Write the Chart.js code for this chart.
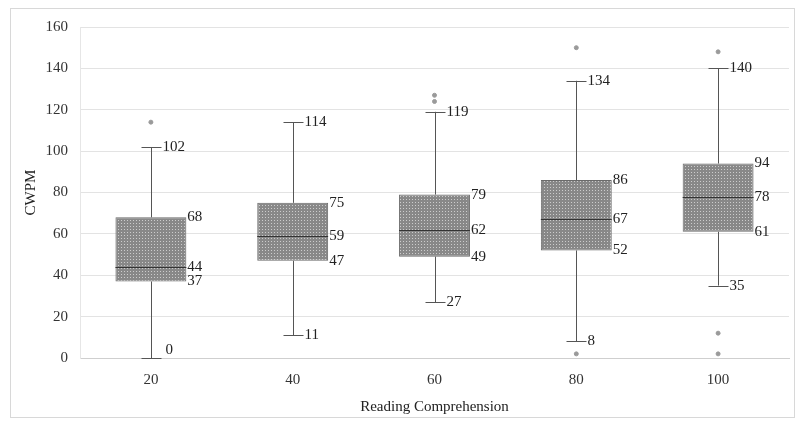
<!DOCTYPE html>
<html>
<head>
<meta charset="utf-8">
<script src="https://cdn.jsdelivr.net/npm/chart.js@4.4.1/dist/chart.umd.min.js"></script>
<style>
  body { margin: 0; background: #fff; }
  #wrap { width: 799px; height: 421px; }
</style>
</head>
<body>
<div id="wrap"><canvas id="boxChart" width="799" height="421"></canvas></div>
<script>
// Datos del diagrama de cajas
var categories = ['20', '40', '60', '80', '100'];
var mins = [0, 11, 27, 8, 35];
var q1s = [37, 47, 49, 52, 61];
var medians = [44, 59, 62, 67, 78];
var q3s = [68, 75, 79, 86, 94];
var maxs = [102, 114, 119, 134, 140];
var outliers = [[114], [], [124, 127], [150, 2], [148, 12, 2]];
var yTicks = [0, 20, 40, 60, 80, 100, 120, 140, 160];

var serif = '"Liberation Serif", "DejaVu Serif", serif';

//Trama punteada gris para las cajas
function makePattern() {
    var c = document.createElement('canvas');
    c.width = 3; c.height = 3;
    var p = c.getContext('2d');
    p.fillStyle = '#888888';
    p.fillRect(0, 0, 3, 3);
    p.fillStyle = '#cccccc';
    p.fillRect(1, 1, 1, 1);
    return p.createPattern(c, 'repeat');
}

var outlierPoints = [];
outliers.forEach(function(list, i) {
    list.forEach(function(v) {
        outlierPoints.push({ x: categories[i], y: v });
    });
});

//Bigotes, medianas y etiquetas
var whiskerPlugin = {
    id: 'whiskers',
    beforeDraw: function(chart) {
        var ctx = chart.ctx;
        ctx.save();
        ctx.strokeStyle = '#d8d8d8';
        ctx.lineWidth = 1;
        ctx.strokeRect(10.5, 8.5, 784, 409);
        ctx.restore();
    },
    afterDatasetsDraw: function(chart) {
        var ctx = chart.ctx;
        var x = chart.scales.x;
        var y = chart.scales.y;
        var meta = chart.getDatasetMeta(0);
        ctx.save();
        ctx.font = '15px ' + serif;
        ctx.fillStyle = '#222';
        ctx.textBaseline = 'middle';
        ctx.textAlign = 'left';
        categories.forEach(function(c, i) {
            var cx = Math.round(x.getPixelForValue(i)) + 0.5;
            var bar = meta.data[i];
            var right = bar.x + bar.width / 2;
            var left = bar.x - bar.width / 2;
            var half = 10;
            ctx.strokeStyle = '#555';
            ctx.lineWidth = 1;
            ctx.beginPath();
            // bigote superior
            ctx.moveTo(cx, y.getPixelForValue(q3s[i]));
            ctx.lineTo(cx, y.getPixelForValue(maxs[i]));
            ctx.moveTo(cx - half, Math.round(y.getPixelForValue(maxs[i])) + 0.5);
            ctx.lineTo(cx + half, Math.round(y.getPixelForValue(maxs[i])) + 0.5);
            // bigote inferior
            ctx.moveTo(cx, y.getPixelForValue(q1s[i]));
            ctx.lineTo(cx, y.getPixelForValue(mins[i]));
            ctx.moveTo(cx - half, Math.round(y.getPixelForValue(mins[i])) + 0.5);
            ctx.lineTo(cx + half, Math.round(y.getPixelForValue(mins[i])) + 0.5);
            ctx.stroke();
            // mediana
            ctx.strokeStyle = '#333';
            ctx.beginPath();
            var my = Math.round(y.getPixelForValue(medians[i])) + 0.5;
            ctx.moveTo(left, my);
            ctx.lineTo(right, my);
            ctx.stroke();
            // etiquetas
            ctx.fillText(String(maxs[i]), cx + half + 1, y.getPixelForValue(maxs[i]));
            ctx.fillText(String(mins[i]), cx + half + (mins[i] === 0 ? 4 : 1), y.getPixelForValue(mins[i]) - (mins[i] === 0 ? 8 : 0));
            ctx.fillText(String(q3s[i]), right + 1, y.getPixelForValue(q3s[i]));
            ctx.fillText(String(medians[i]), right + 1, y.getPixelForValue(medians[i]));
            ctx.fillText(String(q1s[i]), right + 1, y.getPixelForValue(q1s[i]));
        });
        ctx.restore();
    }
};

var ctx = document.getElementById('boxChart').getContext('2d');
var boxChart = new Chart(ctx, {
    type: 'bar',
    data: {
        labels: categories,
        datasets: [{
            label: 'CWPM',
            data: q1s.map(function(v, i) { return [v, q3s[i]]; }),
            backgroundColor: makePattern(),
            borderColor: '#6a6a6a',
            borderWidth: 1,
            borderSkipped: false,
            barPercentage: 0.5,
            categoryPercentage: 1
        }, {
            type: 'scatter',
            label: 'outliers',
            data: outlierPoints,
            pointRadius: 2,
            pointBackgroundColor: '#9a9a9a',
            pointBorderColor: '#9a9a9a'
        }]
    },
    options: {
        responsive: false,
        animation: false,
        layout: { padding: { left: 18, right: 10, top: 27, bottom: 5 } },
        plugins: {
            legend: { display: false },
            tooltip: { enabled: false }
        },
        scales: {
            x: {
                type: 'category',
                offset: true,
                grid: { display: false, drawTicks: false },
                border: { color: '#cfcfcf' },
                ticks: { color: '#333', font: { family: serif, size: 15 }, padding: 13 },
                title: { display: true, text: 'Reading Comprehension', color: '#222', font: { family: serif, size: 15 }, padding: { top: -4, bottom: 0 } }
            },
            y: {
                min: 0,
                max: 160,
                afterBuildTicks: function(scale) {
                    scale.ticks = yTicks.map(function(v) { return { value: v }; });
                },
                afterFit: function(scale) { scale.width = 62; },
                grid: { color: '#e3e3e3', drawTicks: false },
                border: { color: '#e6e6e6' },
                ticks: { color: '#333', font: { family: serif, size: 15 }, padding: 12 },
                title: { display: true, text: 'CWPM', color: '#222', font: { family: serif, size: 15 }, padding: { bottom: 4 } }
            }
        }
    },
    plugins: [whiskerPlugin]
});
</script>
</body>
</html>
